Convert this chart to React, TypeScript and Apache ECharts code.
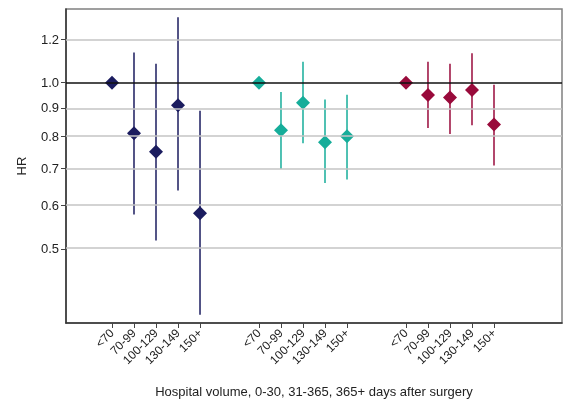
import React, { useEffect, useRef } from "react";
import * as echarts from "echarts";

// ---- data ----
const categories = ["<70", "70-99", "100-129", "130-149", "150+"];
const groupNames = ["0-30", "31-365", "365+"];
const groupColors = ["#1b1c5f", "#16ad9a", "#990a3b"];

const hr0 = [1.0, 0.81, 0.75, 0.91, 0.58];
const lo0 = [null, 0.577, 0.518, 0.638, 0.38];
const hi0 = [null, 1.134, 1.082, 1.314, 0.89];

const hr1 = [1.0, 0.82, 0.92, 0.78, 0.8];
const lo1 = [null, 0.698, 0.777, 0.658, 0.668];
const hi1 = [null, 0.962, 1.091, 0.932, 0.951];

const hr2 = [1.0, 0.95, 0.94, 0.97, 0.84];
const lo2 = [null, 0.828, 0.807, 0.837, 0.708];
const hi2 = [null, 1.091, 1.082, 1.131, 0.992];

const yTicks = [0.5, 0.6, 0.7, 0.8, 0.9, 1.0, 1.2];
const yMin = 0.367;
const yMax = 1.36;

// layout constants (x-axis slot positions)
const GROUP_STEP = 6.68;
const X_MIN = -2.09;
const X_MAX = 20.45;

const groupsData = [
  { hr: hr0, lo: lo0, hi: hi0 },
  { hr: hr1, lo: lo1, hi: hi1 },
  { hr: hr2, lo: lo2, hi: hi2 },
];

const xPos = (g: number, i: number) => g * GROUP_STEP + i;
const allX: number[] = [];
const allLabels: string[] = [];
groupNames.forEach((_, g) =>
  categories.forEach((c, i) => {
    allX.push(xPos(g, i));
    allLabels.push(c);
  })
);

export default function App() {
  const ref = useRef<HTMLDivElement>(null);
  useEffect(() => {
    const chart = echarts.init(ref.current!, null, { renderer: "svg" });
    const font = "'Liberation Sans', Arial, sans-serif";
    const series: any[] = [];

    // grid lines
    series.push({
      type: "line",
      data: [],
      z: 1,
      silent: true,
      markLine: {
        silent: true,
        symbol: "none",
        label: { show: false },
        animation: false,
        data: yTicks
          .filter((v) => v !== 1.0)
          .map((v) => ({ yAxis: Math.log(v), lineStyle: { color: "#c4c4c4", width: 1.5, type: "solid" } }))
          .concat([{ yAxis: 0, lineStyle: { color: "#111", width: 1.5, type: "solid" } }]),
      },
    });

    groupsData.forEach((gd, g) => {
      const errData: any[] = [];
      gd.hr.forEach((_, i) => {
        if (gd.lo[i] != null && gd.hi[i] != null)
          errData.push([xPos(g, i), Math.log(gd.lo[i] as number), Math.log(gd.hi[i] as number)]);
      });
      series.push({
        type: "custom",
        z: 2,
        data: errData,
        renderItem: (params: any, api: any) => {
          const p1 = api.coord([api.value(0), api.value(1)]);
          const p2 = api.coord([api.value(0), api.value(2)]);
          return {
            type: "line",
            shape: { x1: p1[0], y1: p1[1], x2: p2[0], y2: p2[1] },
            style: { stroke: groupColors[g], lineWidth: 1.5 },
          };
        },
      });
      series.push({
        type: "scatter",
        z: 3,
        symbol: "diamond",
        symbolSize: [14, 14],
        itemStyle: { color: groupColors[g], opacity: 1 },
        data: gd.hr.map((v, i) => [xPos(g, i), Math.log(v)]),
      });
    });

    chart.setOption({
      animation: false,
      grid: {
        left: 66,
        top: 9,
        width: 496,
        height: 315,
        show: true,
        borderColor: "#808080",
        borderWidth: 1.5,
      },
      xAxis: {
        type: "value",
        min: X_MIN,
        max: X_MAX,
        name: "Hospital volume, 0-30, 31-365, 365+ days after surgery",
        nameLocation: "middle",
        nameGap: 62,
        nameTextStyle: { fontFamily: font, fontSize: 13, color: "#222" },
        axisLine: { show: true, onZero: false, lineStyle: { color: "#333", width: 1.5 } },
        axisTick: { show: true, length: 5, customValues: allX, lineStyle: { color: "#444" } },
        splitLine: { show: false },
        axisLabel: {
          customValues: allX,
          rotate: 45,
          margin: 8,
          fontFamily: font,
          fontSize: 12,
          color: "#222",
          formatter: (v: number) => {
            let best = 0;
            let bd = Infinity;
            allX.forEach((x, k) => {
              const d = Math.abs(x - v);
              if (d < bd) {
                bd = d;
                best = k;
              }
            });
            return allLabels[best];
          },
        },
      },
      yAxis: {
        type: "value",
        min: Math.log(yMin),
        max: Math.log(yMax),
        name: "HR",
        nameLocation: "middle",
        nameGap: 38,
        nameTextStyle: { fontFamily: font, fontSize: 13, color: "#222" },
        axisLine: { show: true, onZero: false, lineStyle: { color: "#333", width: 1.5 } },
        axisTick: { show: true, length: 5, customValues: yTicks.map((v) => Math.log(v)), lineStyle: { color: "#444" } },
        splitLine: { show: false },
        axisLabel: {
          customValues: yTicks.map((v) => Math.log(v)),
          margin: 7,
          fontFamily: font,
          fontSize: 13,
          color: "#222",
          formatter: (v: number) => Math.exp(v).toFixed(1),
        },
      },
      series,
    });
    return () => chart.dispose();
  }, []);
  return <div ref={ref} style={{ position: "fixed", left: 0, top: 0, width: 564, height: 403 }} />;
}
